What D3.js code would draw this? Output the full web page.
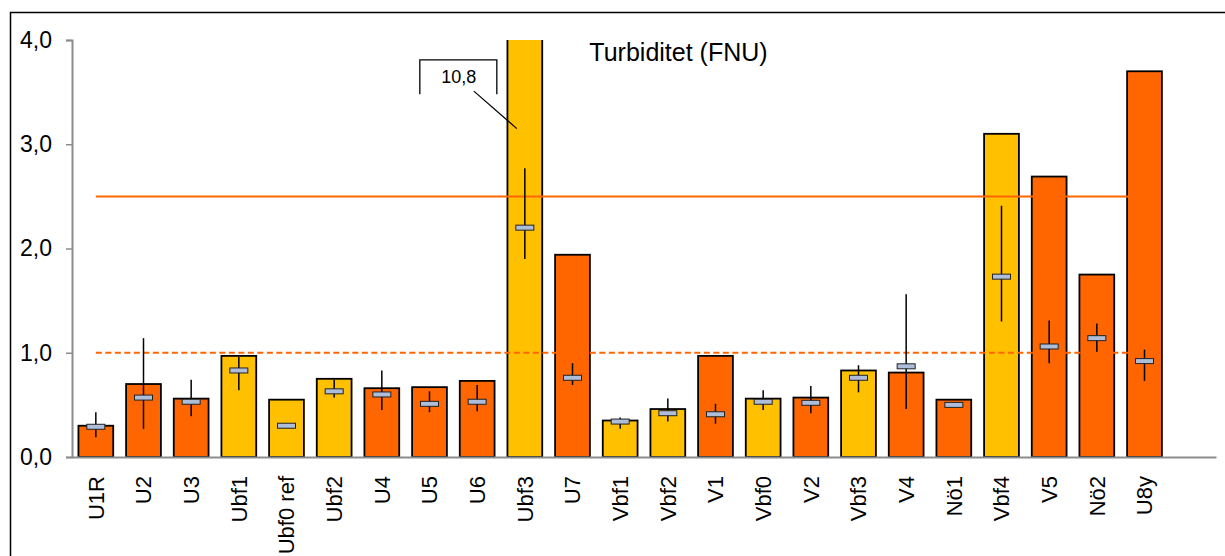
<!DOCTYPE html>
<html>
<head>
<meta charset="utf-8">
<script src="https://cdn.jsdelivr.net/npm/d3@7"></script>
<style>
  body { margin: 0; background: #fff; }
  text { font-family: "Liberation Sans", Arial, sans-serif; }
</style>
</head>
<body>
<div id="chart"></div>
<script>
// data
var stations = ["U1R", "U2", "U3", "Ubf1", "Ubf0 ref", "Ubf2", "U4", "U5", "U6", "Ubf3", "U7",
                "Vbf1", "Vbf2", "V1", "Vbf0", "V2", "Vbf3", "V4", "Nö1", "Vbf4", "V5", "Nö2", "U8y"];
var kind = ["u", "u", "u", "bf", "bf", "bf", "u", "u", "u", "bf", "u",
            "bf", "bf", "u", "bf", "u", "bf", "u", "u", "bf", "u", "u", "u"];
var means   = [0.30, 0.70, 0.56, 0.97, 0.55, 0.75, 0.66, 0.67, 0.73, 10.8, 1.94,
               0.35, 0.46, 0.97, 0.56, 0.57, 0.83, 0.81, 0.55, 3.10, 2.69, 1.75, 3.70];
var medians = [0.29, 0.57, 0.53, 0.83, 0.30, 0.63, 0.60, 0.51, 0.53, 2.20, 0.76,
               0.34, 0.42, 0.41, 0.53, 0.52, 0.76, 0.87, 0.50, 1.73, 1.06, 1.14, 0.92];
var errLow  = [0.19, 0.27, 0.39, 0.64, 0.28, 0.57, 0.45, 0.43, 0.44, 1.90, 0.69,
               0.27, 0.34, 0.32, 0.45, 0.42, 0.62, 0.46, 0.49, 1.30, 0.90, 1.01, 0.73];
var errHigh = [0.43, 1.14, 0.74, 0.96, 0.31, 0.74, 0.83, 0.63, 0.69, 2.77, 0.90,
               0.38, 0.56, 0.51, 0.64, 0.68, 0.88, 1.56, 0.52, 2.41, 1.31, 1.28, 1.03];
var yTicks = [0, 1, 2, 3, 4];
var limitSolid = 2.5, limitDashed = 1.0;
var title = "Turbiditet (FNU)";
var offScaleLabel = "10,8";

var W = 1225, H = 556;
var margin = {top: 40, right: 9, bottom: 99, left: 72},
    width = W - margin.left - margin.right,
    height = H - margin.top - margin.bottom;

var svg = d3.select("#chart").append("svg")
    .attr("width", W).attr("height", H);

// outer frame (right/bottom edges fall outside the picture)
svg.append("rect")
    .attr("x", 10.5).attr("y", 12.5)
    .attr("width", W).attr("height", H)
    .attr("fill", "none").attr("stroke", "#000").attr("stroke-width", 1.5);

var g = svg.append("g")
    .attr("transform", "translate(" + margin.left + "," + margin.top + ")");

var colors = {u: "#FF6600", bf: "#FFC000"};

// one empty slot at the end
var x = d3.scaleBand()
    .domain(stations.concat([""]))
    .range([0, width])
    .paddingInner(0.27)
    .paddingOuter(0.135);

var y = d3.scaleLinear().domain([0, 4]).range([height, 0]);

var fmt = function(d) { return d3.format(".1f")(d).replace(".", ","); };

g.append("clipPath").attr("id", "plot")
  .append("rect").attr("x", 0).attr("y", 0).attr("width", width).attr("height", height + 2);

var data = stations.map(function(s, i) {
  return {name: s, kind: kind[i], mean: means[i], median: medians[i], lo: errLow[i], hi: errHigh[i]};
});

// bars
g.append("g").attr("clip-path", "url(#plot)")
  .selectAll("rect").data(data).enter().append("rect")
    .attr("x", function(d) { return x(d.name); })
    .attr("width", x.bandwidth())
    .attr("y", function(d) { return d.mean > 4 ? y(4) - 5 : y(d.mean); })
    .attr("height", function(d) { return height - (d.mean > 4 ? y(4) - 5 : y(d.mean)); })
    .attr("fill", function(d) { return colors[d.kind]; })
    .attr("stroke", "#000").attr("stroke-width", 1.8);

// limit lines, from first to last station centre
var xc = function(name) { return x(name) + x.bandwidth() / 2; };
g.append("line")
    .attr("x1", xc(stations[0])).attr("x2", xc(stations[stations.length - 1]))
    .attr("y1", y(limitSolid)).attr("y2", y(limitSolid))
    .attr("stroke", "#FF6600").attr("stroke-width", 2);
g.append("line")
    .attr("x1", xc(stations[0])).attr("x2", xc(stations[stations.length - 1]))
    .attr("y1", y(limitDashed)).attr("y2", y(limitDashed))
    .attr("stroke", "#FF6600").attr("stroke-width", 2)
    .attr("stroke-dasharray", "6,3.5");

// error bars
g.append("g").selectAll("line").data(data).enter().append("line")
    .attr("x1", function(d) { return xc(d.name); })
    .attr("x2", function(d) { return xc(d.name); })
    .attr("y1", function(d) { return y(d.lo); })
    .attr("y2", function(d) { return y(d.hi); })
    .attr("stroke", "#000").attr("stroke-width", 1.5);

// medians
g.append("g").selectAll("rect").data(data).enter().append("rect")
    .attr("x", function(d) { return xc(d.name) - 9; })
    .attr("y", function(d) { return y(d.median) - 2.5; })
    .attr("width", 18).attr("height", 5)
    .attr("fill", "#AEBEDA").attr("stroke", "#222").attr("stroke-width", 1);

// y axis
var yAxis = g.append("g")
    .call(d3.axisLeft(y).tickValues(yTicks).tickFormat(fmt).tickSize(6).tickPadding(14));
yAxis.select(".domain").attr("stroke", "#8c8c8c").attr("stroke-width", 2);
yAxis.selectAll(".tick line").attr("stroke", "#8c8c8c").attr("stroke-width", 1.5);
yAxis.selectAll(".tick text").attr("fill", "#000").style("font-size", "23px")
    .style("font-family", "'Liberation Sans', Arial, sans-serif");

// x axis
var xAxis = g.append("g")
    .attr("transform", "translate(0," + height + ")")
    .call(d3.axisBottom(x).tickSize(0).tickPadding(0));
xAxis.select(".domain").attr("stroke", "#8c8c8c").attr("stroke-width", 2);
xAxis.selectAll(".tick text")
    .attr("fill", "#000").style("font-size", "22px")
    .style("font-family", "'Liberation Sans', Arial, sans-serif")
    .attr("text-anchor", "end")
    .attr("transform", "rotate(-90)")
    .attr("x", -19).attr("y", 0).attr("dy", "0.36em");

// title
g.append("text")
    .attr("x", xc("U7") + 106).attr("y", y(3.80))
    .attr("text-anchor", "middle")
    .style("font-size", "25px")
    .text(title);

// off-scale callout for Ubf3
var cx = xc("Ubf3");
g.append("path")
    .attr("d", "M" + (cx - 105) + "," + y(3.48) + "V" + y(3.81) + "H" + (cx - 28) + "V" + y(3.48))
    .attr("fill", "none").attr("stroke", "#000").attr("stroke-width", 1.3);
g.append("text")
    .attr("x", cx - 66).attr("y", y(3.59))
    .attr("text-anchor", "middle")
    .style("font-size", "18px")
    .text(offScaleLabel);
g.append("line")
    .attr("x1", cx - 51).attr("y1", y(3.51))
    .attr("x2", cx - 8).attr("y2", y(3.15))
    .attr("stroke", "#000").attr("stroke-width", 1.2);
</script>
</body>
</html>
